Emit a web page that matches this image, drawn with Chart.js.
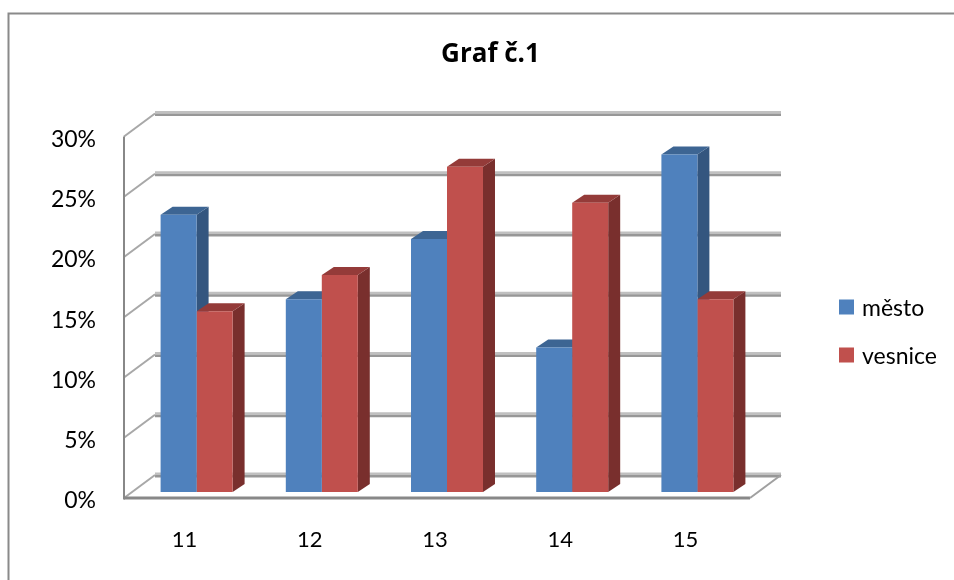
<!DOCTYPE html>
<html>
<head>
<meta charset="utf-8">
<style>
  html, body { margin: 0; padding: 0; background: #ffffff; }
  #wrap { width: 954px; height: 580px; }
</style>
<script src="https://cdn.jsdelivr.net/npm/chart.js@4.4.1/dist/chart.umd.min.js"></script>
</head>
<body>
<div id="wrap"><canvas id="chart" width="954" height="580"></canvas></div>
<script>
// Data
const categories = ['11', '12', '13', '14', '15'];
const mestoValues = [23, 16, 21, 12, 28];
const vesniceValues = [15, 18, 27, 24, 16];
const seriesNames = ['město', 'vesnice'];
const chartTitle = 'Graf č.1';
const yMin = 0, yMax = 30, yStep = 5;

// Colours of the three visible faces of each box
const frontColors = ['#4F81BD', '#C0504D'];
const topColors = ['#3D6593', '#943B39'];
const sideColors = ['#34567F', '#792F2D'];

// Depth offsets: box depth, and front/back walls relative to the bar plane
const BAR_DX = 12, BAR_DY = 8;
const FRONT = { dx: -10, dy: 6 };
const BACK = { dx: 21, dy: -17 };

const LABEL_FONT = 'Lato, "Open Sans", sans-serif';

function poly(ctx, pts, color) {
  ctx.beginPath();
  ctx.moveTo(pts[0][0], pts[0][1]);
  for (let i = 1; i < pts.length; i++) ctx.lineTo(pts[i][0], pts[i][1]);
  ctx.closePath();
  ctx.fillStyle = color;
  ctx.fill();
}

function line(ctx, x1, y1, x2, y2, color, w) {
  ctx.beginPath();
  ctx.moveTo(x1, y1);
  ctx.lineTo(x2, y2);
  ctx.strokeStyle = color;
  ctx.lineWidth = w;
  ctx.stroke();
}

const frame3d = {
  id: 'frame3d',
  beforeDraw(chart) {
    const ctx = chart.ctx;
    ctx.save();
    ctx.fillStyle = '#ffffff';
    ctx.fillRect(0, 0, chart.width, chart.height);
    // chart border
    ctx.beginPath();
    ctx.moveTo(8.5, chart.height);
    ctx.lineTo(8.5, 13.5);
    ctx.lineTo(chart.width, 13.5);
    ctx.strokeStyle = '#8a8a8a';
    ctx.lineWidth = 2;
    ctx.stroke();
    ctx.restore();
  },
  beforeDatasetsDraw(chart) {
    const ctx = chart.ctx;
    const area = chart.chartArea;
    const ys = chart.scales.y;
    ctx.save();

    // back wall gridlines and left wall diagonals
    ys.ticks.forEach(t => {
      const py = ys.getPixelForValue(t.value);
      const by = py + BACK.dy;
      ctx.fillStyle = '#c0c0c0';
      ctx.fillRect(area.left + BACK.dx, by - 2.5, area.right - area.left, 2.5);
      ctx.fillStyle = '#979797';
      ctx.fillRect(area.left + BACK.dx, by, area.right - area.left, 2.5);
      line(ctx, area.left + FRONT.dx, py + FRONT.dy, area.left + BACK.dx, by, '#a8a8a8', 2);
    });

    // front vertical axis and floor edges
    const y0 = ys.getPixelForValue(yMin);
    const yTop = ys.getPixelForValue(yMax);
    line(ctx, area.left + FRONT.dx, yTop + FRONT.dy, area.left + FRONT.dx, y0 + FRONT.dy + 1.5, '#888888', 2);
    line(ctx, area.left + FRONT.dx, y0 + FRONT.dy, area.right + FRONT.dx, y0 + FRONT.dy, '#888888', 3);
    line(ctx, area.right + FRONT.dx, y0 + FRONT.dy, area.right + BACK.dx, y0 + BACK.dy, '#a0a0a0', 2);

    // side and top faces of the boxes (front faces are drawn by the bar controller)
    chart.data.datasets.forEach((ds, d) => {
      const meta = chart.getDatasetMeta(d);
      meta.data.forEach(el => {
        const p = el.getProps(['x', 'y', 'base', 'width'], true);
        const l = p.x - p.width / 2, r = p.x + p.width / 2;
        poly(ctx, [[r, p.y], [r + BAR_DX, p.y - BAR_DY], [r + BAR_DX, p.base - BAR_DY], [r, p.base]], sideColors[d]);
        poly(ctx, [[l, p.y], [l + BAR_DX, p.y - BAR_DY], [r + BAR_DX, p.y - BAR_DY], [r, p.y]], topColors[d]);
      });
    });
    ctx.restore();
  },
  afterDraw(chart) {
    // legend
    const ctx = chart.ctx;
    const area = chart.chartArea;
    const boxX = area.right + 79;
    ctx.save();
    ctx.font = '23px ' + LABEL_FONT;
    ctx.textBaseline = 'alphabetic';
    ctx.textAlign = 'left';
    chart.data.datasets.forEach((ds, i) => {
      const top = 299.5 + i * 48;
      ctx.fillStyle = ds.backgroundColor;
      ctx.fillRect(boxX, top, 15, 15);
      ctx.fillStyle = '#000000';
      ctx.fillText(ds.label, boxX + 23, top + 16.5);
    });
    ctx.restore();
  }
};

new Chart(document.getElementById('chart'), {
  type: 'bar',
  data: {
    labels: categories,
    datasets: [
      { label: seriesNames[0], data: mestoValues, backgroundColor: frontColors[0] },
      { label: seriesNames[1], data: vesniceValues, backgroundColor: frontColors[1] }
    ]
  },
  options: {
    responsive: false,
    animation: false,
    devicePixelRatio: 1,
    layout: { padding: { left: 27, right: 0, top: 0, bottom: 0 } },
    datasets: {
      bar: { categoryPercentage: 0.575, barPercentage: 1.0, borderWidth: 0 }
    },
    plugins: {
      legend: { display: false },
      tooltip: { enabled: false },
      title: {
        display: true,
        text: chartTitle,
        color: '#000000',
        font: { family: '"Open Sans", Lato, sans-serif', size: 26, weight: 'bold', lineHeight: 1.2 },
        padding: { top: 39.4, bottom: 59.9 }
      }
    },
    scales: {
      x: {
        grid: { display: false, drawTicks: false },
        border: { display: false },
        ticks: { color: '#000000', font: { family: LABEL_FONT, size: 22 }, padding: 35, labelOffset: -12 },
        afterFit(s) { s.height = 88; }
      },
      y: {
        min: yMin, max: yMax,
        grid: { display: false, drawTicks: false },
        border: { display: false },
        ticks: {
          stepSize: yStep,
          color: '#000000',
          font: { family: LABEL_FONT, size: 23 },
          padding: 38,
          labelOffset: 9,
          callback: v => v + '%'
        },
        afterFit(s) { s.width = 107; }
      },
      legendSpace: {
        type: 'linear',
        position: 'right',
        grid: { display: false, drawTicks: false },
        border: { display: false },
        ticks: { display: false },
        afterFit(s) { s.width = 194; }
      }
    }
  },
  plugins: [frame3d]
});
</script>
</body>
</html>
